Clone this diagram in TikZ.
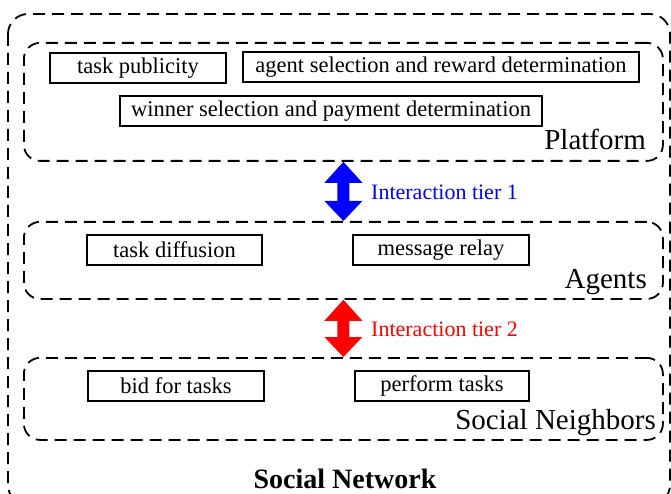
\documentclass[tikz,border=0pt]{standalone}
\usepackage{fontspec}
\setmainfont{Liberation Serif}
\usetikzlibrary{calc}
\newcommand{\tierarrow}[3]{%
  \fill[#1] let \p1=(#2), \p2=(#3) in
   (\x1,\y1) -- (\x1+19pt,\y1-21pt) -- (\x1+6pt,\y1-21pt) -- (\x1+6pt,\y2+20pt)
   -- (\x1+19pt,\y2+20pt) -- (\x1,\y2) -- (\x1-19pt,\y2+20pt) -- (\x1-6pt,\y2+20pt)
   -- (\x1-6pt,\y1-21pt) -- (\x1-19pt,\y1-21pt) -- cycle;}
\begin{document}
\begin{tikzpicture}[x=1pt,y=-1pt,
  grp/.style={draw, dash pattern=on 12pt off 7pt, line width=1.8pt, rounded corners=16pt,
              minimum width=639pt, anchor=north west, inner sep=0pt},
  taskbox/.style={draw, line width=1.4pt, minimum height=30pt, inner sep=0pt,
              font=\fontsize{22.5}{26}\selectfont},
  lbl/.style={font=\fontsize{29}{34}\selectfont, anchor=base east, inner sep=0pt},
  tier/.style={font=\fontsize{22}{26}\selectfont, anchor=base west, inner sep=0pt}]
\useasboundingbox (0,0) rectangle (671,494);
\clip (0,0) rectangle (671,494);
% outer social network
\draw[dash pattern=on 12pt off 7pt, line width=1.8pt, rounded corners=20pt] (8,14) rectangle (670,505);
% groups
\node[grp, minimum height=118pt] (platform) at (23,42) {};
\node[grp, minimum height=77pt] (agents) at (23,221) {};
\node[grp, minimum height=82pt] (neigh) at (23,357) {};
% tasks
\node[taskbox, minimum width=176pt] (pub) at (138,68) {task publicity};
\node[taskbox, minimum width=396pt] (asel) at (441,67) {agent selection and reward determination};
\node[taskbox, minimum width=422pt] (wsel) at (331,111) {winner selection and payment determination};
\node[taskbox, minimum width=175pt] (diff) at (174.5,250) {task diffusion};
\node[taskbox, minimum width=176pt] (relay) at (441,250) {message relay};
\node[taskbox, minimum width=176pt] (bid) at (176,386) {bid for tasks};
\node[taskbox, minimum width=174pt] (perf) at (442,386) {perform tasks};
% labels
\node[lbl] (lplat) at (646,150) {Platform};
\node[lbl] (lag) at (647,288) {Agents};
\node[lbl] (lnb) at (656,429) {Social Neighbors};
\node[font=\fontsize{28}{34}\selectfont\bfseries, anchor=base, inner sep=0pt] (lsn) at (345,488) {Social Network};
% interaction tiers
\tierarrow{blue}{platform.south}{agents.north}
\tierarrow{red}{agents.south}{neigh.north}
\node[tier, text=blue] (t1) at (371,200) {Interaction tier 1};
\node[tier, text=red] (t2) at (371,336) {Interaction tier 2};
\end{tikzpicture}
\end{document}
